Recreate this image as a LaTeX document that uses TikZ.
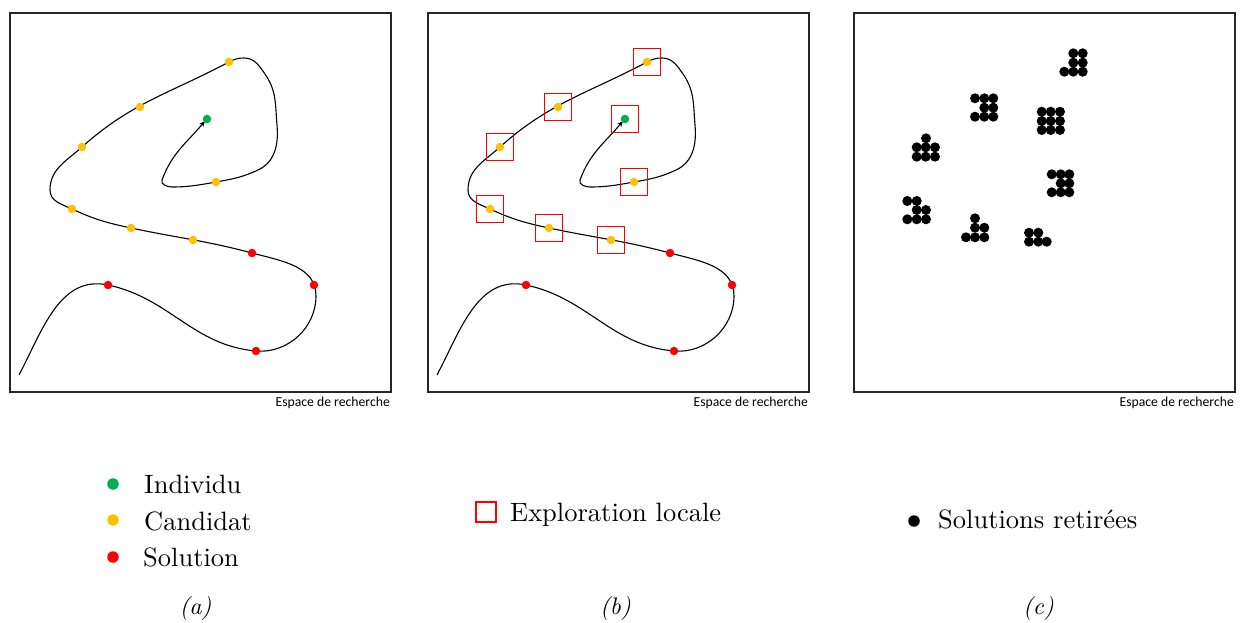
\documentclass[tikz,border=0pt]{standalone}
\usepackage{fontspec}
\setmainfont{lmroman10-regular.otf}[ItalicFont=lmroman10-italic.otf]
\newfontfamily\calib{Carlito}
\usetikzlibrary{arrows.meta}
\definecolor{dgreen}{RGB}{0,176,80}
\definecolor{dyellow}{RGB}{255,192,0}
\definecolor{dred}{RGB}{255,0,0}
\begin{document}
\begin{tikzpicture}[x=1pt,y=-1pt,
  panelbox/.style={draw=black!85, line width=2pt},
  dotn/.style={circle, inner sep=0pt, minimum size=8.5pt},
  gdot/.style={dotn, fill=dgreen},
  ydot/.style={dotn, fill=dyellow},
  rdot/.style={dotn, fill=dred},
  bdot/.style={circle, inner sep=0pt, minimum size=10pt, fill=black},
  legdot/.style={circle, inner sep=0pt, minimum size=11.5pt},
  explo/.style={draw=dred, line width=1.9pt, minimum size=27pt, inner sep=0pt},
  curvestyle/.style={line width=1.1pt, -{Stealth[length=6pt,width=5pt]}},
  caption/.style={font=\calib\fontsize{13.7}{16}\selectfont, anchor=north east, inner sep=0pt},
  legtext/.style={font=\fontsize{26.5}{30}\selectfont, anchor=base west, inner sep=0pt},
  lab/.style={font=\itshape\fontsize{24}{28}\selectfont, inner sep=0pt, anchor=base}
]
\useasboundingbox[fill=white] (0,0) rectangle (1245,623);

% panels a and b: curve and dots
\foreach \dx/\p in {0/a,418/b}{
\begin{scope}[shift={(\dx,0)}]
  \node[panelbox, minimum width=381pt, minimum height=379pt, inner sep=0pt] (\p-box) at (200.5,202.5) {};
  \node[caption] (\p-cap) at (390,397) {Espace de recherche};
  \draw[curvestyle] (19,375) to[out=62,in=168] (108,285)
    to[out=-12,in=175] (256,351)
    to[out=-5,in=-90] (316,296)
    to[out=90,in=-15] (252,253)
    to[out=165,in=-12] (131,228)
    to[out=168,in=-25] (72,209)
    to[out=155,in=-90] (50,190)
    to[out=90,in=-138] (82,147)
    to[out=42,in=-152] (229,62)
    to[out=28,in=180] (244,58)
    to[out=0,in=125] (265,74)
    to[out=-55,in=95] (277,125)
    to[out=-85,in=25] (258,170)
    to[out=-155,in=10] (216,182)
    to[out=-170,in=0] (172,187)
    to[out=180,in=-110] (162,180)
    to[out=70,in=-130] (205,121);
  \node[gdot] (\p-g) at (207,119) {};
  \node[ydot] (\p-y1) at (229,62) {};
  \node[ydot] (\p-y2) at (140,107) {};
  \node[ydot] (\p-y3) at (82,147) {};
  \node[ydot] (\p-y4) at (216,182) {};
  \node[ydot] (\p-y5) at (72,209) {};
  \node[ydot] (\p-y6) at (131,228) {};
  \node[ydot] (\p-y7) at (193,240) {};
  \node[rdot] (\p-r1) at (252,253) {};
  \node[rdot] (\p-r2) at (314,285) {};
  \node[rdot] (\p-r3) at (108,285) {};
  \node[rdot] (\p-r4) at (256,351) {};
\end{scope}
}

% local exploration squares in panel b
\foreach \n in {g,y1,y2,y3,y4,y5,y6,y7}{
  \node[explo] (sq-\n) at (b-\n) {};
}

% panel c
\node[panelbox, minimum width=381pt, minimum height=379pt, inner sep=0pt] (c-box) at (1044.5,202.5) {};
\node[caption] (c-cap) at (1234,397) {Espace de recherche};
\foreach \x/\y [count=\i] in {
  1073.3/53.3, 1082.7/53.3, 1073.3/62.7, 1082.7/62.7, 1064.3/71.7, 1073.3/71.7, 1082.7/71.7,
  975/98.3, 984.3/98.3, 993.3/98.3, 984.3/107.7, 993.3/107.7, 975/116.7, 984.3/116.7, 993.3/116.7,
  1041.7/111.7, 1050.7/111.7, 1060/111.7, 1041.7/121, 1050.7/121, 1060/121, 1041.7/130, 1050.7/130, 1060/130,
  926/138.3, 916.7/147.3, 925.7/147.3, 935/147.3, 916.7/156.7, 925.7/156.7, 935/156.7,
  1051.7/174.3, 1060.7/174.3, 1069.3/174.3, 1060.7/183.3, 1069.3/183.3, 1051.7/192.3, 1060.7/192.3, 1069.3/192.3,
  907.3/201, 916.7/201, 916.7/210, 926/210, 907.3/219.3, 916.7/219.3, 926/219.3,
  975/218.3, 975/227.7, 984.3/227.7, 966/237.3, 975/237.3, 984.3/237.3,
  1029/232.7, 1038.3/232.7, 1029/241.7, 1038.3/241.7, 1046.7/241.7}{
  \node[bdot] (c-d\i) at (\x,\y) {};
}

% legends
\node[legdot, fill=dgreen] (l-g) at (113,484) {};
\node[legtext] (l-gt) at (144,493) {Individu};
\node[legdot, fill=dyellow] (l-y) at (113,520) {};
\node[legtext] (l-yt) at (144,530) {Candidat};
\node[legdot, fill=dred] (l-r) at (113,557) {};
\node[legtext] (l-rt) at (143,566) {Solution};

\node[draw=dred, line width=2pt, minimum size=20pt, inner sep=0pt] (l-sq) at (485.5,512) {};
\node[legtext] (l-sqt) at (510,521.5) {Exploration locale};

\node[legdot, fill=black] (l-b) at (914,521) {};
\node[legtext] (l-bt) at (938,528.5) {Solutions retirées};

\node[lab] (lab-a) at (195.5,614) {(a)};
\node[lab] (lab-b) at (615.5,614) {(b)};
\node[lab] (lab-c) at (1038.5,614) {(c)};
\end{tikzpicture}
\end{document}
